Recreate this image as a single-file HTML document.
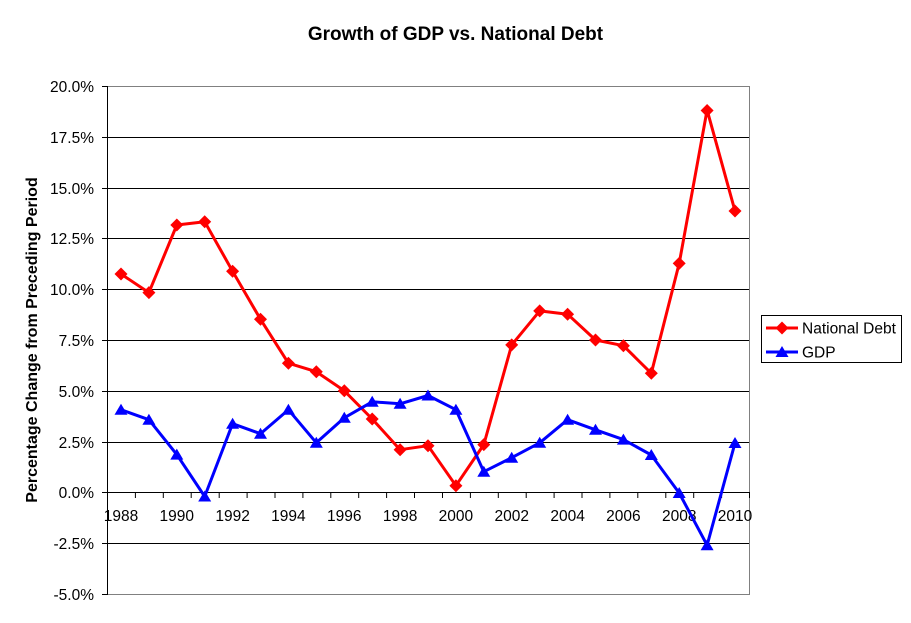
<!DOCTYPE html>
<html><head><meta charset="utf-8"><style>
html,body{margin:0;padding:0;background:#fff;}
svg{display:block;}
text{font-family:"Liberation Sans",Arial,sans-serif;}
</style></head><body>
<svg width="911" height="623" viewBox="0 0 911 623" xmlns="http://www.w3.org/2000/svg">
<defs>
<polygon id="dm" points="0,-6.5 6.5,0 0,6.5 -6.5,0" fill="#FF0000"/>
<polygon id="tr" points="0,-6 6.5,5 -6.5,5" fill="#0000FF"/>
</defs>
<rect width="911" height="623" fill="#fff"/>
<text x="455.5" y="40" font-size="19" font-weight="bold" text-anchor="middle">Growth of GDP vs. National Debt</text>
<text transform="translate(37,340) rotate(-90)" font-size="16" font-weight="bold" text-anchor="middle">Percentage Change from Preceding Period</text>
<!-- gridlines -->
<g stroke="#000" stroke-width="1">
<line x1="107" y1="137.5" x2="749" y2="137.5"/>
<line x1="107" y1="188.5" x2="749" y2="188.5"/>
<line x1="107" y1="238.5" x2="749" y2="238.5"/>
<line x1="107" y1="289.5" x2="749" y2="289.5"/>
<line x1="107" y1="340.5" x2="749" y2="340.5"/>
<line x1="107" y1="391.5" x2="749" y2="391.5"/>
<line x1="107" y1="442.5" x2="749" y2="442.5"/>
<line x1="107" y1="492.5" x2="749" y2="492.5"/>
<line x1="107" y1="543.5" x2="749" y2="543.5"/>
</g>
<g stroke="#808080" stroke-width="1" fill="none">
<line x1="107" y1="86.5" x2="749" y2="86.5"/>
<line x1="107" y1="594.5" x2="749" y2="594.5"/>
<line x1="749.5" y1="86" x2="749.5" y2="595"/>
</g>
<!-- left axis -->
<g stroke="#000" stroke-width="1">
<line x1="107.5" y1="86" x2="107.5" y2="595"/>
<line x1="102" y1="86.5" x2="107" y2="86.5"/>
<line x1="102" y1="137.5" x2="107" y2="137.5"/>
<line x1="102" y1="188.5" x2="107" y2="188.5"/>
<line x1="102" y1="238.5" x2="107" y2="238.5"/>
<line x1="102" y1="289.5" x2="107" y2="289.5"/>
<line x1="102" y1="340.5" x2="107" y2="340.5"/>
<line x1="102" y1="391.5" x2="107" y2="391.5"/>
<line x1="102" y1="442.5" x2="107" y2="442.5"/>
<line x1="102" y1="492.5" x2="107" y2="492.5"/>
<line x1="102" y1="543.5" x2="107" y2="543.5"/>
<line x1="102" y1="594.5" x2="107" y2="594.5"/>
</g>
<!-- x ticks -->
<g stroke="#000" stroke-width="1">
<line x1="135.4" y1="492" x2="135.4" y2="498"/>
<line x1="163.3" y1="492" x2="163.3" y2="498"/>
<line x1="191.2" y1="492" x2="191.2" y2="498"/>
<line x1="219.2" y1="492" x2="219.2" y2="498"/>
<line x1="247.1" y1="492" x2="247.1" y2="498"/>
<line x1="275.0" y1="492" x2="275.0" y2="498"/>
<line x1="302.9" y1="492" x2="302.9" y2="498"/>
<line x1="330.8" y1="492" x2="330.8" y2="498"/>
<line x1="358.7" y1="492" x2="358.7" y2="498"/>
<line x1="386.6" y1="492" x2="386.6" y2="498"/>
<line x1="414.5" y1="492" x2="414.5" y2="498"/>
<line x1="442.5" y1="492" x2="442.5" y2="498"/>
<line x1="470.4" y1="492" x2="470.4" y2="498"/>
<line x1="498.3" y1="492" x2="498.3" y2="498"/>
<line x1="526.2" y1="492" x2="526.2" y2="498"/>
<line x1="554.1" y1="492" x2="554.1" y2="498"/>
<line x1="582.0" y1="492" x2="582.0" y2="498"/>
<line x1="609.9" y1="492" x2="609.9" y2="498"/>
<line x1="637.8" y1="492" x2="637.8" y2="498"/>
<line x1="665.8" y1="492" x2="665.8" y2="498"/>
<line x1="693.7" y1="492" x2="693.7" y2="498"/>
<line x1="721.6" y1="492" x2="721.6" y2="498"/>
<line x1="749.5" y1="492" x2="749.5" y2="498"/>
</g>
<!-- y labels -->
<g font-size="15.5" text-anchor="end" fill="#000">
<text x="94" y="92">20.0%</text>
<text x="94" y="143">17.5%</text>
<text x="94" y="194">15.0%</text>
<text x="94" y="244">12.5%</text>
<text x="94" y="295">10.0%</text>
<text x="94" y="346">7.5%</text>
<text x="94" y="397">5.0%</text>
<text x="94" y="448">2.5%</text>
<text x="94" y="498">0.0%</text>
<text x="94" y="549">-2.5%</text>
<text x="94" y="600">-5.0%</text>
</g>
<!-- x labels -->
<g font-size="15.5" text-anchor="middle" fill="#000">
<text x="121" y="521">1988</text>
<text x="176.8" y="521">1990</text>
<text x="232.6" y="521">1992</text>
<text x="288.4" y="521">1994</text>
<text x="344.3" y="521">1996</text>
<text x="400.1" y="521">1998</text>
<text x="455.9" y="521">2000</text>
<text x="511.7" y="521">2002</text>
<text x="567.6" y="521">2004</text>
<text x="623.4" y="521">2006</text>
<text x="679.2" y="521">2008</text>
<text x="735" y="521">2010</text>
</g>
<!-- Debt -->
<polyline fill="none" stroke="#FF0000" stroke-width="3" stroke-linejoin="round" points="121,274 148.9,292.6 176.8,225 204.7,221.7 232.6,271.3 260.5,319.3 288.4,363.2 316.3,371.7 344.3,390.8 372.2,419 400.1,449.7 428,445.7 455.9,485.7 483.8,444.6 511.7,344.9 539.7,310.9 567.6,314.2 595.5,340 623.4,345.7 651.3,373.3 679.2,263.4 707.1,110 735,211"/>
<!-- GDP -->
<polyline fill="none" stroke="#0000FF" stroke-width="3" stroke-linejoin="round" points="121,409.7 148.9,419.7 176.8,454.6 204.7,496.5 232.6,423.7 260.5,433.7 288.4,409.7 316.3,442.8 344.3,417.8 372.2,401.8 400.1,403.8 428,395.5 455.9,409.7 483.8,471.7 511.7,457.7 539.7,442.8 567.6,419.7 595.5,429.8 623.4,439.6 651.3,455 679.2,493 707.1,545.2 735,443"/>
<g>
<use href="#dm" x="121" y="274"/><use href="#dm" x="148.9" y="292.6"/><use href="#dm" x="176.8" y="225"/><use href="#dm" x="204.7" y="221.7"/><use href="#dm" x="232.6" y="271.3"/><use href="#dm" x="260.5" y="319.3"/><use href="#dm" x="288.4" y="363.2"/><use href="#dm" x="316.3" y="371.7"/><use href="#dm" x="344.3" y="390.8"/><use href="#dm" x="372.2" y="419"/><use href="#dm" x="400.1" y="449.7"/><use href="#dm" x="428" y="445.7"/><use href="#dm" x="455.9" y="485.7"/><use href="#dm" x="483.8" y="444.6"/><use href="#dm" x="511.7" y="344.9"/><use href="#dm" x="539.7" y="310.9"/><use href="#dm" x="567.6" y="314.2"/><use href="#dm" x="595.5" y="340"/><use href="#dm" x="623.4" y="345.7"/><use href="#dm" x="651.3" y="373.3"/><use href="#dm" x="679.2" y="263.4"/><use href="#dm" x="707.1" y="110.5"/><use href="#dm" x="735" y="211"/>
</g>
<g>
<use href="#tr" x="121" y="409.7"/><use href="#tr" x="148.9" y="419.7"/><use href="#tr" x="176.8" y="454.6"/><use href="#tr" x="204.7" y="496.5"/><use href="#tr" x="232.6" y="423.7"/><use href="#tr" x="260.5" y="433.7"/><use href="#tr" x="288.4" y="409.7"/><use href="#tr" x="316.3" y="442.8"/><use href="#tr" x="344.3" y="417.8"/><use href="#tr" x="372.2" y="401.8"/><use href="#tr" x="400.1" y="403.8"/><use href="#tr" x="428" y="395.5"/><use href="#tr" x="455.9" y="409.7"/><use href="#tr" x="483.8" y="471.7"/><use href="#tr" x="511.7" y="457.7"/><use href="#tr" x="539.7" y="442.8"/><use href="#tr" x="567.6" y="419.7"/><use href="#tr" x="595.5" y="429.8"/><use href="#tr" x="623.4" y="439.6"/><use href="#tr" x="651.3" y="455"/><use href="#tr" x="679.2" y="493"/><use href="#tr" x="707.1" y="545.2"/><use href="#tr" x="735" y="443"/>
</g>
<!-- legend -->
<rect x="761.5" y="315.5" width="140" height="47" fill="#fff" stroke="#000" stroke-width="1"/>
<line x1="766" y1="328" x2="798" y2="328" stroke="#FF0000" stroke-width="3"/>
<use href="#dm" x="782" y="328"/>
<line x1="766" y1="352" x2="798" y2="352" stroke="#0000FF" stroke-width="3"/>
<use href="#tr" x="782" y="352"/>
<text x="802" y="333.5" font-size="15.5">National Debt</text>
<text x="802" y="357.5" font-size="15.5">GDP</text>
</svg>
</body></html>
